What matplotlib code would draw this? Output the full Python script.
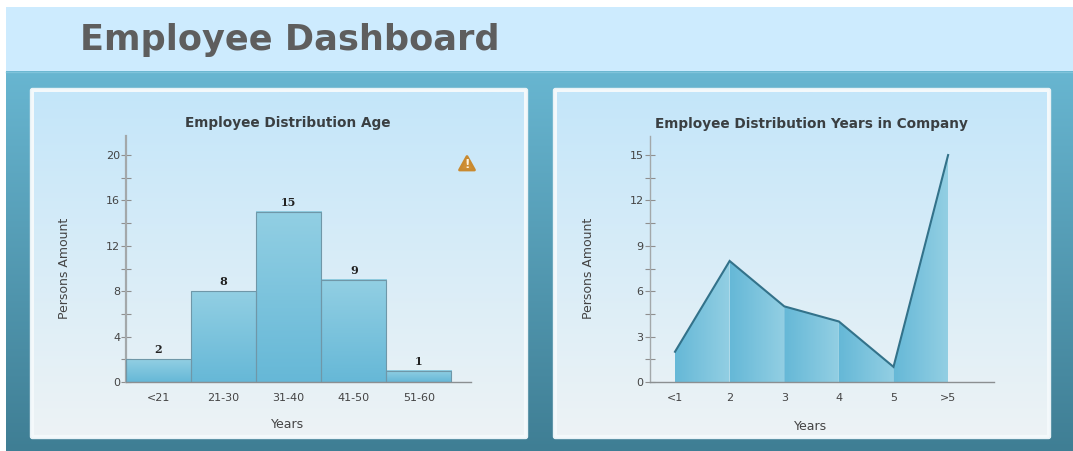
import numpy as np
import matplotlib
matplotlib.use("Agg")
import matplotlib.pyplot as plt
from matplotlib.colors import LinearSegmentedColormap
from matplotlib.patches import FancyBboxPatch, Polygon, Rectangle

# data
age_labels = ["<21", "21-30", "31-40", "41-50", "51-60"]
age_values = [2, 8, 15, 9, 1]
company_labels = ["<1", "2", "3", "4", "5", ">5"]
company_values = [2, 8, 5, 4, 1, 15]
age_major = [0, 4, 8, 12, 16, 20]
age_minor = [2, 6, 10, 14, 18]
company_major = [0, 3, 6, 9, 12, 15]
company_minor = [1.5, 4.5, 7.5, 10.5, 13.5]

W, H = 1073, 451
fig = plt.figure(figsize=(W / 100, H / 100), dpi=100, facecolor="white")
plt.rcParams["font.family"] = "DejaVu Sans"

def cmap(c1, c2):
    return LinearSegmentedColormap.from_list("g", [c1, c2])

grad_v = np.linspace(0, 1, 256).reshape(-1, 1)
grad_h = np.linspace(0, 1, 256).reshape(1, -1)

# background layer in pixel coordinates
bg = fig.add_axes([0, 0, 1, 1], zorder=0)
bg.set_xlim(0, W)
bg.set_ylim(H, 0)
bg.axis("off")
bg.imshow(grad_v, extent=(6, W, 451, 71), cmap=cmap("#68b6d1", "#3f7e94"), aspect="auto", vmin=0, vmax=1, origin="upper")
bg.add_patch(Rectangle((6, 7), W - 6, 64, fc="#cdebfe", ec="none"))
bg.plot([6, W], [71.5, 71.5], color="#7fc3da", lw=1)
bg.text(80, 40, "Employee Dashboard", fontsize=25.3, fontweight="bold", color="#5e5e5e", va="center", ha="left")

for px in [30, 553]:
    bg.add_patch(FancyBboxPatch((px + 0.5, 88.5), 497, 350, boxstyle="round,pad=0,rounding_size=2", fc="#f4f9fb", ec="#e8f2f6", lw=1, zorder=2))
    bg.imshow(grad_v, extent=(px + 4, px + 494, 435, 92), cmap=cmap("#c4e6fa", "#edf3f5"), aspect="auto", vmin=0, vmax=1, origin="upper", zorder=3)
bg.set_xlim(0, W)
bg.set_ylim(H, 0)

# warning icon
bg.add_patch(Polygon([(467, 156.5), (474.5, 170), (459.5, 170)], closed=True, fc="#cf8f35", ec="#c98a30", lw=2, joinstyle="round", zorder=4))
bg.text(467, 164, "!", color="#fff4df", fontsize=8.5, fontweight="bold", ha="center", va="center", zorder=5)


def make_axes(x0, x1, y_top, y_bot, title, title_xy, xlab_xy, ylab_xy, xlim, ylim, major, minor, labels, spine_w):
    ax = fig.add_axes([x0 / W, 1 - y_bot / H, (x1 - x0) / W, (y_bot - y_top) / H], zorder=5)
    ax.patch.set_visible(False)
    ax.set_xlim(*xlim)
    ax.set_ylim(*ylim)
    for s in ["top", "right"]:
        ax.spines[s].set_visible(False)
    ax.spines["left"].set_color("#a3a8aa")
    ax.spines["left"].set_linewidth(spine_w)
    ax.spines["bottom"].set_color("#8b8f91")
    ax.spines["bottom"].set_linewidth(1)
    ax.set_yticks(major)
    ax.set_yticks(minor, minor=True)
    ax.tick_params(axis="y", which="both", direction="inout", length=6.5, width=0.8, color="#8f8f8f", labelsize=8, labelcolor="#444444", pad=1)
    ax.set_xticks(range(len(labels)), labels)
    ax.tick_params(axis="x", length=0, labelsize=8, labelcolor="#444444", pad=8)
    ax.set_xlabel("Years", fontsize=9, color="#444444")
    ax.set_ylabel("Persons Amount", fontsize=9, color="#444444")
    ax.xaxis.set_label_coords((xlab_xy[0] - x0) / (x1 - x0), (y_bot - xlab_xy[1]) / (y_bot - y_top), transform=ax.transAxes)
    ax.xaxis.label.set_va("center")
    ax.yaxis.set_label_coords((ylab_xy[0] - x0) / (x1 - x0), (y_bot - ylab_xy[1]) / (y_bot - y_top), transform=ax.transAxes)
    ax.yaxis.label.set_va("center")
    ax.text((title_xy[0] - x0) / (x1 - x0), (y_bot - title_xy[1]) / (y_bot - y_top), title, transform=ax.transAxes,
            fontsize=9.8, fontweight="bold", color="#3a3f42", ha="center", va="center")
    return ax


# left chart, bars
ax1 = make_axes(126, 471, 136, 382, "Employee Distribution Age", (288, 123), (288, 424), (65, 268),
                (-0.5, 4.8), (0, 246 / 11.35), age_major, age_minor, age_labels, 1.6)
bars = ax1.bar(range(len(age_values)), age_values, width=1, facecolor="none", edgecolor="#6f97a8", linewidth=0.8, zorder=3)
for rect, val in zip(bars, age_values):
    x = rect.get_x()
    im = ax1.imshow(grad_v, extent=(x, x + 1, 0, val), cmap=cmap("#92cfe3", "#66b8d7"), aspect="auto", vmin=0, vmax=1, origin="upper", zorder=2)
    ax1.text(x + 0.5, val + 0.35, str(val), family="DejaVu Serif", fontsize=8, fontweight="bold", color="#222222", ha="center", va="bottom")
ax1.set_xlim(-0.5, 4.8)
ax1.set_ylim(0, 246 / 11.35)

# right chart, area
ax2 = make_axes(649.5, 994, 136, 382, "Employee Distribution Years in Company", (811, 124), (811, 427), (588, 268),
                (-0.467, 5.84), (0, 246 / 15.13), company_major, company_minor, company_labels, 1)
xs = list(range(len(company_values)))
for i in range(len(xs) - 1):
    poly = ax2.fill_between(xs[i:i + 2], company_values[i:i + 2], 0, facecolor="none", edgecolor="none")
    im = ax2.imshow(grad_h, extent=(xs[i], xs[i + 1], 0, 16), cmap=cmap("#65b8d7", "#93cfe3"), aspect="auto", vmin=0, vmax=1, zorder=2)
    im.set_clip_path(poly.get_paths()[0], ax2.transData)
ax2.plot(xs, company_values, color="#33728a", lw=1.5, zorder=3, solid_joinstyle="miter")
ax2.set_xlim(-0.467, 5.84)
ax2.set_ylim(0, 246 / 15.13)

fig.savefig("out.png", dpi=100)
